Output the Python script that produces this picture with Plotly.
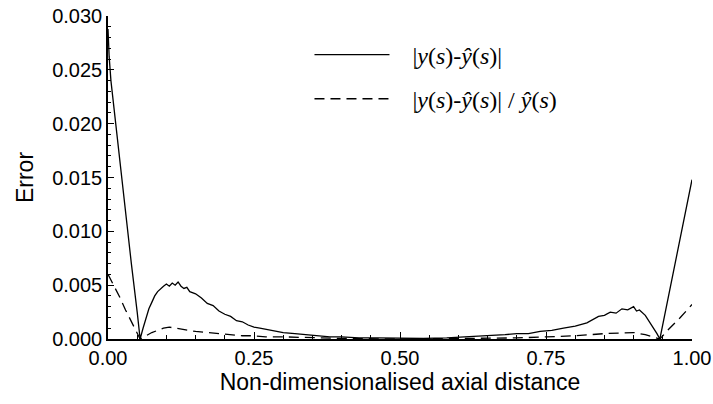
import plotly.graph_objects as go

# ---- data ----
abs_x = [0, 0.002, 0.005, 0.01, 0.02, 0.03, 0.04, 0.05, 0.055, 0.06, 0.065, 0.07, 0.075,
         0.08, 0.085, 0.09, 0.095, 0.10, 0.105, 0.11, 0.115, 0.12, 0.125, 0.13, 0.135,
         0.14, 0.15, 0.16, 0.17, 0.18, 0.19, 0.20, 0.21, 0.22, 0.23, 0.24, 0.25, 0.26,
         0.27, 0.28, 0.30, 0.32, 0.34, 0.36, 0.38, 0.40, 0.43, 0.46, 0.50, 0.54, 0.58,
         0.62, 0.65, 0.68, 0.70, 0.72, 0.74, 0.76, 0.78, 0.80, 0.82, 0.83, 0.84, 0.85,
         0.86, 0.87, 0.88, 0.89, 0.90, 0.905, 0.91, 0.92, 0.93, 0.94, 0.945, 0.96, 0.98, 1.0]
abs_err = [0.0288, 0.0262, 0.0240, 0.0215, 0.0165, 0.0115, 0.0070, 0.0025, 0.0000, 0.0010,
           0.0020, 0.0028, 0.0034, 0.0040, 0.0044, 0.0047, 0.0049, 0.0051, 0.0049, 0.0052,
           0.0050, 0.0053, 0.0049, 0.0047, 0.0048, 0.0044, 0.0042, 0.0038, 0.0033, 0.0031,
           0.0026, 0.0023, 0.0021, 0.0017, 0.0016, 0.0013, 0.0011, 0.0010, 0.0009, 0.0008,
           0.0006, 0.0005, 0.0004, 0.0003, 0.0002, 0.0002, 0.0001, 0.0001, 0.00005, 0.00005,
           0.0001, 0.0002, 0.0003, 0.0004, 0.0005, 0.0005, 0.0007, 0.0008, 0.0010, 0.0012,
           0.0015, 0.0018, 0.0021, 0.0022, 0.0025, 0.0024, 0.0028, 0.0027, 0.0030, 0.0026,
           0.0027, 0.0022, 0.0014, 0.0005, 0.0000, 0.0040, 0.0094, 0.0148]

rel_x = [0, 0.01, 0.02, 0.03, 0.04, 0.05, 0.055, 0.065, 0.075, 0.085, 0.095, 0.105, 0.115,
         0.13, 0.15, 0.17, 0.19, 0.21, 0.23, 0.25, 0.27, 0.30, 0.35, 0.40, 0.50, 0.60, 0.70,
         0.75, 0.80, 0.85, 0.88, 0.90, 0.92, 0.935, 0.945, 0.96, 0.98, 1.0]
rel_err = [0.0060, 0.0050, 0.0039, 0.0027, 0.0016, 0.0005, 0.0000, 0.0003, 0.0006, 0.0008,
           0.0010, 0.0011, 0.0010, 0.0009, 0.0007, 0.0006, 0.0005, 0.0004, 0.0003, 0.0003,
           0.0002, 0.0002, 0.0001, 0.00005, 0.0, 0.00005, 0.0001, 0.0002, 0.0003, 0.0005,
           0.0006, 0.0006, 0.0004, 0.0002, 0.0, 0.0009, 0.0020, 0.0032]

x_ticks = [0.0, 0.25, 0.5, 0.75, 1.0]
y_ticks = [0.0, 0.005, 0.010, 0.015, 0.020, 0.025, 0.030]

name_abs = "&nbsp;&nbsp;&nbsp;|<i>y</i>(<i>s</i>)-<i>ŷ</i>(<i>s</i>)|"
name_rel = "&nbsp;&nbsp;&nbsp;|<i>y</i>(<i>s</i>)-<i>ŷ</i>(<i>s</i>)| / <i>ŷ</i>(<i>s</i>)"

fig = go.Figure()
fig.add_trace(go.Scatter(x=abs_x, y=abs_err, mode="lines", name=name_abs, legendgroup="a",
                         line=dict(color="black", width=1.3)))
fig.add_trace(go.Scatter(x=rel_x, y=rel_err, mode="lines", name=name_rel, legendgroup="b",
                         line=dict(color="black", width=1.3, dash="10px,6px")))

tick_font = dict(family="Liberation Sans, Arial, sans-serif", size=20, color="black")
title_font = dict(family="Liberation Sans, Arial, sans-serif", size=23, color="black")
fig.update_layout(
    width=713, height=404,
    margin=dict(l=108, r=21, t=16, b=65),
    paper_bgcolor="white", plot_bgcolor="white",
    showlegend=True,
    legend=dict(x=0.345, y=0.949, xanchor="left", yanchor="top",
                bgcolor="rgba(0,0,0,0)", itemwidth=75,
                traceorder="grouped", tracegroupgap=10,
                font=dict(family="Liberation Serif, Times New Roman, serif", size=24, color="black")),
    xaxis=dict(range=[0, 1], tickvals=x_ticks, tickformat=".2f", automargin=False,
               showline=True, linecolor="black", linewidth=1.5, showgrid=False, zeroline=False,
               ticks="inside", ticklen=7, tickwidth=1.3, tickcolor="black",
               minor=dict(dtick=0.05, tick0=0, ticks="inside", ticklen=4, tickcolor="black"),
               tickfont=tick_font,
               title=dict(text="Non-dimensionalised axial distance", standoff=6, font=title_font)),
    yaxis=dict(range=[0, 0.030], tickvals=y_ticks, tickformat=".3f", automargin=False,
               showline=True, linecolor="black", linewidth=1.5, showgrid=False, zeroline=False,
               ticks="inside", ticklen=6, tickwidth=1.3, tickcolor="black",
               minor=dict(dtick=0.001, tick0=0, ticks="inside", ticklen=3, tickcolor="black"),
               tickfont=tick_font,
               title=dict(text="Error", standoff=12, font=title_font)),
)

fig.write_html("out.html")
